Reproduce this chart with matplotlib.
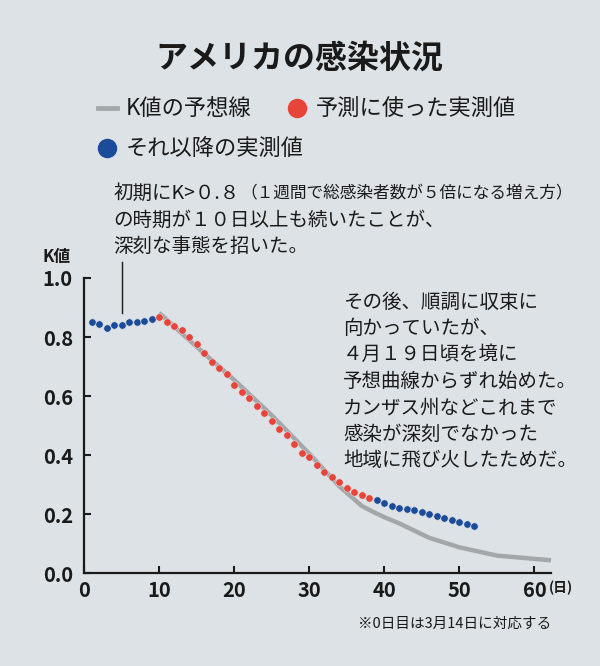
import matplotlib
matplotlib.use('Agg')
import matplotlib.pyplot as plt
from matplotlib.lines import Line2D

# 実測値（K値）— 0日目 = 3月14日
days_early = [1, 2, 3, 4, 5, 6, 7, 8, 9]
k_early = [0.852, 0.844, 0.829, 0.840, 0.840, 0.850, 0.852, 0.856, 0.862]

days_fit = list(range(10, 39))
k_fit = [0.867, 0.851, 0.838, 0.824, 0.799, 0.778, 0.746, 0.715, 0.695, 0.675,
         0.638, 0.614, 0.593, 0.566, 0.542, 0.515, 0.490, 0.467, 0.438, 0.407,
         0.395, 0.368, 0.344, 0.327, 0.308, 0.290, 0.275, 0.266, 0.254]

days_after = list(range(39, 53))
k_after = [0.247, 0.237, 0.229, 0.222, 0.218, 0.213, 0.208, 0.202, 0.195, 0.188,
           0.182, 0.174, 0.167, 0.160]

# K値の予想線
model_days = [10, 15, 20, 25, 30, 34, 37, 38.5, 40, 42, 46, 50, 55, 62.2]
model_k = [0.882, 0.767, 0.655, 0.535, 0.405, 0.295, 0.228, 0.208, 0.19, 0.169,
           0.12, 0.088, 0.06, 0.044]

x_ticks = [0, 10, 20, 30, 40, 50, 60]
y_ticks = [0.0, 0.2, 0.4, 0.6, 0.8, 1.0]

title = 'アメリカの感染状況'
legend_labels = ['K値の予想線', '予測に使った実測値', 'それ以降の実測値']
note1_big = '初期にK>０.８'
note1_small = '（１週間で総感染者数が５倍になる増え方）'
note1_rest = ['の時期が１０日以上も続いたことが、', '深刻な事態を招いた。']
note2 = ['その後、順調に収束に', '向かっていたが、', '４月１９日頃を境に',
         '予想曲線からずれ始めた。', 'カンザス州などこれまで',
         '感染が深刻でなかった', '地域に飛び火したためだ。']
footnote = '※0日目は3月14日に対応する'

BG = '#dce2e5'
RED = '#e8443a'
BLUE = '#1c4b9a'
GRAY = '#a3a7a9'
INK = '#1a1a1a'
JP = ['Noto Sans CJK JP', 'DejaVu Sans']

W, H = 600, 666
fig = plt.figure(figsize=(W / 100, H / 100), dpi=100, facecolor=BG)


def fx(px):
    return px / W


def fy(py):
    return 1 - py / H


ax = fig.add_axes([fx(84), fy(573.3), (551 - 84) / W, (573.3 - 278) / H])
ax.set_facecolor(BG)

ax.plot(model_days, model_k, color=GRAY, lw=3.2, solid_capstyle='butt',
        zorder=2, clip_on=False)
ax.plot(days_early, k_early, 'o', color=BLUE, ms=5.3, mec=BG, mew=0.4, zorder=3)
ax.plot(days_fit, k_fit, 'o', color=RED, ms=5.3, mec=BG, mew=0.4, zorder=3)
ax.plot(days_after, k_after, 'o', color=BLUE, ms=5.3, mec=BG, mew=0.4, zorder=3)

# pointer from note 1 down to the early points
ax.plot([5, 5], [0.88, 1.054], color=INK, lw=1.0, clip_on=False)

ax.set_xlim(0, 62.2)
ax.set_ylim(0, 1.0)
ax.set_xticks(x_ticks)
ax.set_yticks(y_ticks)
ax.set_xticklabels([str(v) for v in x_ticks])
ax.set_yticklabels([f'{v:.1f}' for v in y_ticks])
for lab in ax.get_xticklabels() + ax.get_yticklabels():
    lab.set_family(JP)
    lab.set_fontweight('bold')
    lab.set_fontsize(14.5)
    lab.set_color(INK)
ax.tick_params(axis='both', direction='in', length=5, width=1.5, color=INK)
ax.tick_params(axis='x', pad=5)
ax.tick_params(axis='y', pad=8)
for s in ['top', 'right']:
    ax.spines[s].set_visible(False)
for s in ['left', 'bottom']:
    ax.spines[s].set_linewidth(1.6)
    ax.spines[s].set_color(INK)

# axis labels
fig.text(fx(42), fy(257), 'K値', family=JP, fontweight='bold', fontsize=12,
         color=INK, ha='left', va='center')
fig.text(fx(549), fy(588), '(日)', family=JP, fontweight='bold', fontsize=10,
         color=INK, ha='left', va='center')

# title
fig.text(fx(299), fy(59), title, family=JP, fontweight='bold', fontsize=23,
         color=INK, ha='center', va='center')

# legend
fig.add_artist(Line2D([fx(98), fx(117)], [fy(108.3), fy(108.3)], color=GRAY,
                      lw=3.5, transform=fig.transFigure))
fig.add_artist(Line2D([fx(296.7)], [fy(108.3)], marker='o', ms=13, color=RED,
                      ls='none', transform=fig.transFigure))
fig.add_artist(Line2D([fx(107.3)], [fy(148.3)], marker='o', ms=13, color=BLUE,
                      ls='none', transform=fig.transFigure))
fig.text(fx(126), fy(108.3), legend_labels[0], family=JP, fontsize=16,
         color=INK, ha='left', va='center')
fig.text(fx(316), fy(108.3), legend_labels[1], family=JP, fontsize=16,
         color=INK, ha='left', va='center')
fig.text(fx(126), fy(148.3), legend_labels[2], family=JP, fontsize=16,
         color=INK, ha='left', va='center')

# note 1
fig.text(fx(113), fy(193), note1_big, family=JP, fontsize=14, color=INK,
         ha='left', va='center')
fig.text(fx(240), fy(194), note1_small, family=JP, fontsize=12, color=INK,
         ha='left', va='center')
for i, line in enumerate(note1_rest):
    fig.text(fx(113), fy(220 + 26.5 * i), line, family=JP, fontsize=14,
             color=INK, ha='left', va='center')

# note 2
for i, line in enumerate(note2):
    fig.text(fx(343), fy(302 + 26.4 * i), line, family=JP, fontsize=14,
             color=INK, ha='left', va='center')

# footnote
fig.text(fx(551), fy(624), footnote, family=JP, fontsize=10.5, color=INK,
         ha='right', va='center')

fig.savefig('out.png', dpi=100, facecolor=BG)
